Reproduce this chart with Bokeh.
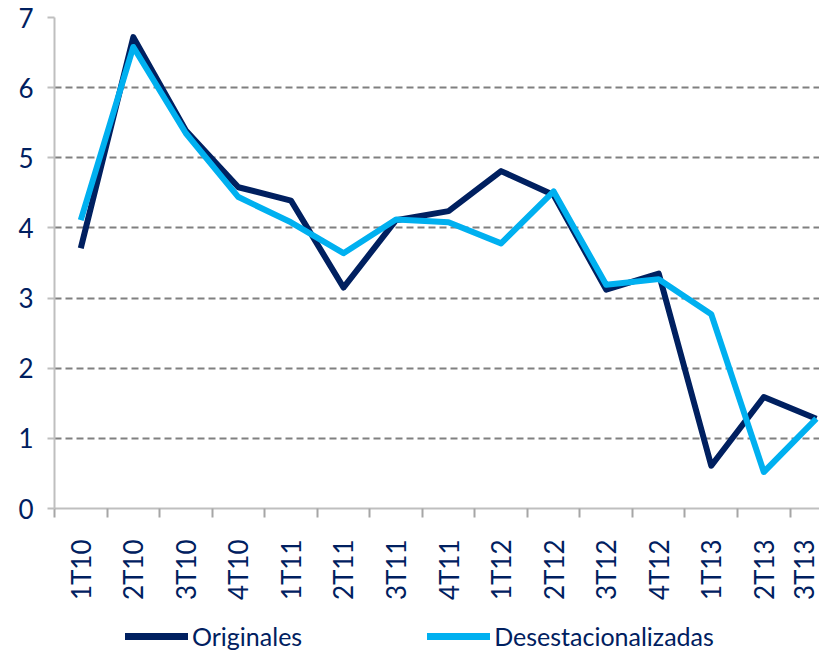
from bokeh.plotting import figure
from bokeh.models import FixedTicker, Legend, LegendItem, Range1d
from bokeh.layouts import column
from bokeh.embed import file_html
from bokeh.resources import INLINE
import math

quarters = ["1T10", "2T10", "3T10", "4T10", "1T11", "2T11", "3T11", "4T11",
            "1T12", "2T12", "3T12", "4T12", "1T13", "2T13", "3T13"]
originales = [3.71, 6.72, 5.39, 4.58, 4.39, 3.15, 4.11, 4.24, 4.81, 4.47, 3.12, 3.35, 0.61, 1.59, 1.28]
desestacionalizadas = [4.11, 6.58, 5.35, 4.44, 4.08, 3.64, 4.12, 4.08, 3.78, 4.52, 3.19, 3.27, 2.77, 0.52, 1.28]
y_ticks = [0, 1, 2, 3, 4, 5, 6, 7]
series_names = ["Originales", "Desestacionalizadas"]

x = list(range(1, len(quarters) + 1))

NAVY = "#002060"
LIGHT = "#00B0F0"
FONT = "Lato"

p = figure(width=819, height=607, output_backend="svg", toolbar_location=None,
           x_range=Range1d(0.5, 15.06), y_range=Range1d(0, 7),
           min_border_left=54, min_border_right=0, min_border_top=17,
           min_border_bottom=99, outline_line_color=None)

p.xgrid.visible = False
p.ygrid.ticker = FixedTicker(ticks=y_ticks[1:])
p.ygrid.grid_line_color = "#808080"
p.ygrid.grid_line_width = 2
p.ygrid.grid_line_dash = "7 4"

p.yaxis.ticker = FixedTicker(ticks=y_ticks)
p.yaxis.axis_line_color = "#BFBFBF"
p.yaxis.axis_line_width = 2
p.yaxis.major_tick_line_color = "#BFBFBF"
p.yaxis.major_tick_line_width = 2
p.yaxis.major_tick_out = 7
p.yaxis.major_tick_in = 0
p.yaxis.minor_tick_line_color = None
p.yaxis.major_label_text_font = FONT
p.yaxis.major_label_text_font_size = "26px"
p.yaxis.major_label_text_color = NAVY
p.yaxis.major_label_standoff = 14

p.xaxis.ticker = FixedTicker(ticks=x, minor_ticks=[i + 0.5 for i in range(0, 16)])
p.xaxis.major_label_overrides = {i: q for i, q in zip(x, quarters)}
p.xaxis.major_tick_line_color = None
p.xaxis.minor_tick_line_color = "#A6A6A6"
p.xaxis.minor_tick_line_width = 2
p.xaxis.minor_tick_out = 9
p.xaxis.minor_tick_in = 0
p.xaxis.axis_line_color = "#BFBFBF"
p.xaxis.axis_line_width = 2
p.xaxis.major_label_orientation = math.pi / 2
p.xaxis.major_label_text_font = FONT
p.xaxis.major_label_text_font_size = "26px"
p.xaxis.major_label_text_color = NAVY
p.xaxis.major_label_standoff = 22

p.line(x, originales, line_color=NAVY, line_width=6, line_join="round")
p.line(x, desestacionalizadas, line_color=LIGHT, line_width=6, line_join="round")

# legend strip below the chart (dummy renderers sit outside the visible range)
lg = figure(width=819, height=44, output_backend="svg", toolbar_location=None,
            x_range=Range1d(0, 1), y_range=Range1d(0, 1),
            x_axis_location=None, y_axis_location=None,
            min_border=0, outline_line_color=None)
lg.grid.visible = False
d1 = lg.line([-5, -4], [-5, -4], line_color=NAVY, line_width=7, line_cap="round")
d2 = lg.line([-5, -4], [-5, -4], line_color=LIGHT, line_width=7, line_cap="round")
legend = Legend(items=[LegendItem(label=series_names[0], renderers=[d1]),
                       LegendItem(label=series_names[1], renderers=[d2])],
                orientation="horizontal", location=(71, 0),
                label_text_font=FONT, label_text_font_size="25px",
                label_text_color=NAVY, glyph_width=63, glyph_height=30,
                spacing=125, label_standoff=4, border_line_color=None,
                background_fill_alpha=0, margin=0, padding=0)
lg.add_layout(legend, "center")

layout = column(p, lg, spacing=0)
open("out.html", "w").write(file_html(layout, INLINE))
